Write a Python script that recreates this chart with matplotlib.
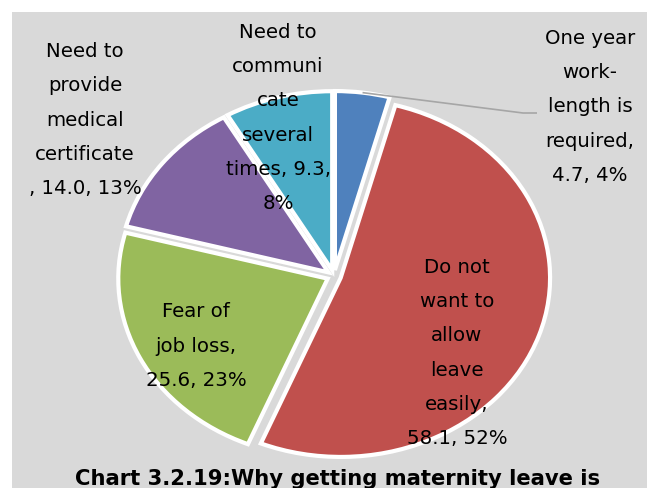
import numpy as np
import matplotlib
matplotlib.use("Agg")
import matplotlib.pyplot as plt
from matplotlib.patches import Rectangle

# Reasons, clockwise from 12 o'clock
categories = [
    "One year\nwork-\nlength is\nrequired",
    "Do not\nwant to\nallow\nleave\neasily",
    "Fear of\njob loss",
    "Need to\nprovide\nmedical\ncertificate",
    "Need to\ncommuni\ncate\nseveral\ntimes",
]
values = [4.7, 58.1, 25.6, 14.0, 9.3]
colors = ["#4F81BD", "#C0504D", "#9BBB59", "#8064A2", "#4BACC6"]
title = "Chart 3.2.19:Why getting maternity leave is"

# how each label joins the name, the value and the share
name_sep = [",\n", ",\n", ",\n", "\n, ", ", "]
value_sep = [", ", ", ", ", ", ", ", ",\n"]
# label block centres in pixels (x from left, y from top)
label_pos = [(590, 107), (457, 353), (196, 346), (85, 120), (278, 118)]

W, H = 647, 488
SX = 1.17  # horizontal stretch of the pie


def to_data(px, py):
    return px / SX, H - py


fig = plt.figure(figsize=(W / 100, H / 100), dpi=100)
fig.patch.set_facecolor("white")
fig.add_artist(Rectangle((12 / W, 0), 1 - 12 / W, 1 - 12 / H,
                         transform=fig.transFigure, facecolor="#D9D9D9",
                         edgecolor="none", zorder=0))

ax = fig.add_axes([0, 0, 1, 1])
ax.set_facecolor("none")

wedges, _ = ax.pie(values, colors=colors, startangle=90, counterclock=False,
                   center=to_data(334, 276), radius=179, explode=[6] * 5,
                   wedgeprops=dict(edgecolor="white", linewidth=3))
ax.set_aspect("auto")
ax.set_xlim(0, W / SX)
ax.set_ylim(0, H)
ax.axis("off")

total = sum(values)
for i, (cat, v) in enumerate(zip(categories, values)):
    pct = 100 * v / total
    text = f"{cat}{name_sep[i]}{v:.1f}{value_sep[i]}{pct:.0f}%"
    x, y = to_data(*label_pos[i])
    ax.text(x, y, text, ha="center", va="center", multialignment="center",
            fontsize=14.2, linespacing=2.02, family="DejaVu Sans",
            color="black")

# leader line for the small first slice
w = wedges[0]
th = np.deg2rad((w.theta1 + w.theta2) / 2)
x0 = w.center[0] + w.r * np.cos(th)
y0 = w.center[1] + w.r * np.sin(th)
xa, ya = to_data(523, 113)
xb, yb = to_data(537, 113)
ax.plot([x0, xa, xb], [y0, ya, yb], color="#A6A6A6", lw=1.2,
        solid_capstyle="butt", zorder=1)

fig.text(338 / W, 1 - 469 / H, title, ha="center", va="top",
         fontsize=15.2, fontweight="bold", family="DejaVu Sans")

fig.savefig("out.png", dpi=100)
